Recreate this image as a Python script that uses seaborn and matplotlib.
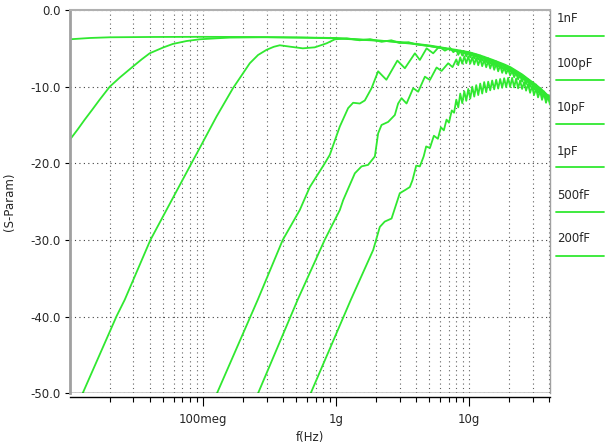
import matplotlib
matplotlib.use("Agg")
from matplotlib import pyplot as plt
from matplotlib.lines import Line2D
from matplotlib.ticker import LogLocator, FixedLocator, NullFormatter
import pandas as pd
import seaborn as sns

GREEN = "#30e830"

# frekvencie v GHz, hodnoty v dB (odcitane z obrazku)
caps = ["1nF", "100pF", "10pF", "1pF", "500fF", "200fF"]

f_1nF = [0.01, 0.0141, 0.0199, 0.0397, 0.0944, 0.2244, 0.533, 1.0, 1.79,
         3.01, 5.06]
db_1nF = [-3.82, -3.65, -3.56, -3.52, -3.50, -3.52, -3.59, -3.65, -3.91,
          -4.17, -4.63]

f_100pF = [0.01, 0.0114, 0.0129, 0.0147, 0.0167, 0.0199, 0.0237, 0.0296,
           0.0345, 0.0397, 0.05, 0.0592, 0.075, 0.0944, 0.13, 0.159, 0.30,
           0.55, 1.0, 1.4, 1.8, 2.4, 3.0, 4.0, 5.0, 6.5]
db_100pF = [-16.9, -15.6, -14.3, -13.0, -11.7, -10.0, -8.8, -7.4, -6.45,
            -5.65, -4.9, -4.43, -4.05, -3.82, -3.68, -3.6, -3.55, -3.6, -3.7,
            -3.85, -3.95, -4.05, -4.25, -4.45, -4.7, -5.0]

f_10pF = [0.0118, 0.01245, 0.02244, 0.02578, 0.0402, 0.0818, 0.0944, 0.1262,
          0.1678, 0.2244, 0.259, 0.2998, 0.34, 0.3773, 0.4487, 0.5617,
          0.6915, 0.8469, 0.978, 1.2, 1.5, 1.8, 2.2, 2.6, 3.0, 3.5, 4.0, 5.0,
          6.0, 7.0]
db_10pF = [-50.8, -50.0, -39.9, -37.8, -30.0, -20.0, -18.0, -13.9, -10.2,
           -6.95, -5.87, -5.2, -4.8, -4.6, -4.78, -5.0, -4.87, -4.35, -3.83,
           -3.7, -3.95, -3.8, -4.15, -3.95, -4.3, -4.2, -4.5, -4.7, -4.95,
           -5.1]

f_1pF = [0.12, 0.1272, 0.2577, 0.397, 0.533, 0.634, 0.822, 0.896, 1.066,
         1.231, 1.342, 1.507, 1.643, 1.846, 2.069, 2.386, 2.886, 3.287,
         3.909, 4.259, 4.786, 5.363, 5.948, 6.566, 7.2, 7.6]
db_1pF = [-50.9, -50.0, -37.8, -30.0, -26.1, -23.1, -20.0, -18.9, -15.2,
          -12.8, -12.1, -12.2, -11.8, -10.2, -8.0, -9.1, -6.6, -7.6, -5.65,
          -6.52, -5.0, -5.65, -4.78, -5.3, -4.95, -5.5]

f_500fF = [0.245, 0.259, 0.514, 0.82, 1.066, 1.13, 1.383, 1.553, 1.741,
           1.955, 2.069, 2.194, 2.461, 2.762, 2.924, 3.103, 3.383, 3.795,
           4.14, 4.647, 5.069, 5.69, 6.202, 6.951, 7.5]
db_500fF = [-50.9, -50.0, -37.8, -30.0, -26.1, -24.8, -21.3, -20.4, -20.2,
            -19.1, -16.1, -15.0, -14.6, -13.7, -12.2, -11.5, -12.2, -10.2,
            -10.66, -8.7, -9.13, -7.5, -7.95, -6.95, -7.45]

f_200fF = [0.60, 0.644, 1.29, 1.90, 2.13, 2.32, 2.61, 3.01, 3.29, 3.58, 3.75,
           4.0, 4.26, 4.55, 4.75, 5.07, 5.43, 5.82, 6.13, 6.45, 6.76, 7.05,
           7.4, 7.7]
db_200fF = [-51.2, -50.0, -37.8, -31.3, -28.3, -27.6, -27.2, -23.9, -23.5,
            -23.1, -22.2, -20.3, -20.4, -19.1, -17.8, -18.0, -16.4, -16.8,
            -15.3, -15.7, -14.3, -14.7, -13.1, -13.4]

# hladke konce hornych kriviek nad 8 GHz
f_tail = [8.0, 10.0, 12.0, 15.0, 18.4, 20.4, 25.0, 28.0, 31.0, 34.7, 40.5]
db_tail_1nF = [-5.2, -5.5, -5.9, -6.5, -7.1, -7.45, -8.4, -9.05, -9.6,
               -10.3, -11.4]
db_tail_100pF = [-5.3, -5.6, -6.0, -6.6, -7.25, -7.6, -8.5, -9.2, -9.75,
                 -10.4, -11.5]
db_tail_10pF = [-5.35, -5.7, -6.1, -6.7, -7.35, -7.7, -8.6, -9.3, -9.85,
                -10.5, -11.55]

# husto zvlnene konce (vrcholy a doliny) nad 8 GHz
f_dense = [8.0, 8.28, 8.57, 8.87, 9.19, 9.51, 9.84, 10.19, 10.55, 10.92,
           11.30, 11.70, 12.11, 12.53, 12.97, 13.43, 13.90, 14.39, 14.89,
           15.42, 15.96, 16.52, 17.10, 17.70, 18.32, 18.96, 19.63, 20.32,
           21.03, 21.77, 22.53, 23.32, 24.14, 24.99, 25.87, 26.77, 27.71,
           28.69, 29.69, 30.73, 31.81, 32.93, 34.09, 35.28, 36.52, 37.80,
           39.13, 40.5]
db_dense_1pF = [-5.2, -5.85, -5.3, -5.95, -5.4, -6.05, -5.5, -6.18, -5.65,
                -6.32, -5.8, -6.48, -5.95, -6.62, -6.1, -6.8, -6.3, -7.0,
                -6.5, -7.2, -6.7, -7.4, -6.9, -7.62, -7.23, -7.8, -7.48,
                -8.04, -7.73, -8.32, -8.03, -8.62, -8.33, -8.94, -8.68, -9.3,
                -9.03, -9.64, -9.38, -10.0, -9.73, -10.4, -10.18, -10.84,
                -10.63, -11.32, -11.08, -11.72]
db_dense_500fF = [-6.45, -7.2, -6.17, -7.0, -6.05, -6.95, -6.05, -7.0, -6.15,
                  -7.1, -6.25, -7.2, -6.35, -7.33, -6.5, -7.47, -6.65, -7.63,
                  -6.8, -7.8, -7.0, -8.0, -7.2, -8.2, -7.5, -8.3, -7.7, -8.53,
                  -7.95, -8.77, -8.2, -9.05, -8.5, -9.35, -8.8, -9.67, -9.15,
                  -10.03, -9.5, -10.4, -9.9, -10.8, -10.3, -11.23, -10.75,
                  -11.7, -11.2, -12.1]
db_dense_200fF = [-11.7, -12.7, -10.9, -12.15, -10.6, -11.85, -10.3, -11.55,
                  -10.0, -11.3, -9.8, -11.1, -9.6, -10.9, -9.4, -10.72, -9.35,
                  -10.48, -9.2, -10.35, -9.1, -10.25, -9.0, -10.15, -8.9,
                  -10.07, -8.85, -10.05, -8.85, -10.1, -8.95, -10.22, -9.2,
                  -10.3, -9.4, -10.52, -9.65, -10.8, -9.95, -11.1, -10.25,
                  -11.4, -10.55, -11.72, -10.9, -12.1, -11.25, -12.35]

curves = {
    "1nF": (f_1nF + f_tail, db_1nF + db_tail_1nF),
    "100pF": (f_100pF + f_tail, db_100pF + db_tail_100pF),
    "10pF": (f_10pF + f_tail, db_10pF + db_tail_10pF),
    "1pF": (f_1pF + f_dense, db_1pF + db_dense_1pF),
    "500fF": (f_500fF + f_dense, db_500fF + db_dense_500fF),
    "200fF": (f_200fF + f_dense, db_200fF + db_dense_200fF),
}
df = pd.concat([pd.DataFrame({"f": f, "db": db, "cap": name})
                for name, (f, db) in curves.items()])

sns.set_style("white")
plt.rcParams["font.family"] = ["DejaVu Sans"]

fig = plt.figure(figsize=(6.06, 4.46), dpi=100)
ax = fig.add_axes([70 / 606, 1 - 393.3 / 446, 480 / 606, 383.3 / 446])

sns.lineplot(data=df, x="f", y="db", hue="cap", hue_order=caps,
             palette={c: GREEN for c in caps}, estimator=None, sort=False,
             legend=False, lw=1.3, ax=ax)

ax.set_xscale("log")
ax.set_xlim(0.01, 40.5)
ax.set_ylim(-50, 0)

# osi a mriezka
ax.xaxis.set_major_locator(FixedLocator([0.1, 1, 10]))
ax.set_xticklabels(["100meg", "1g", "10g"])
ax.xaxis.set_minor_locator(LogLocator(base=10, subs=range(2, 10)))
ax.xaxis.set_minor_formatter(NullFormatter())
yt = [-50, -40, -30, -20, -10, 0]
ax.set_yticks(yt)
ax.set_yticklabels([f"{v:.1f}" for v in yt])

ax.grid(which="both", axis="x", color="#606060", lw=0.8,
        linestyle=(0, (1, 3)))
ax.grid(which="major", axis="y", color="#404040", lw=0.8,
        linestyle=(0, (1, 3)))
ax.axhline(-50, color="black", lw=1)

ax.tick_params(axis="x", which="major", direction="out", length=6.3,
               width=0.8, color="black", labelsize=8.5, pad=5, bottom=True)
ax.tick_params(axis="x", which="minor", direction="out", length=3.8,
               width=0.8, color="black", bottom=True)
ax.tick_params(axis="y", which="major", direction="out", length=3.6,
               width=0.8, color="black", labelsize=8.5, pad=3, left=True)

ax.spines["left"].set_color("#a0a0a0")
ax.spines["left"].set_linewidth(2)
ax.spines["top"].set_color("#b0b0b0")
ax.spines["top"].set_linewidth(1.5)
ax.spines["right"].set_color("#a0a0a0")
ax.spines["right"].set_linewidth(1)
ax.spines["bottom"].set_color("black")
ax.spines["bottom"].set_linewidth(1)
ax.spines["bottom"].set_position(("outward", 3))

ax.set_xlabel("f(Hz)", fontsize=8.5)
ax.set_ylabel("(S-Param)", fontsize=8.5)
ax.xaxis.set_label_coords(0.5, -0.098)
ax.yaxis.set_label_coords(-0.112, 0.5)

# legenda vpravo: text nad ciarou
for i, lab in enumerate(caps):
    ty = 19 + 44 * i
    fig.text(557 / 606, 1 - ty / 446, lab, fontsize=8.5, va="center",
             ha="left")
    fig.add_artist(Line2D([556 / 606, 604 / 606],
                          [1 - (ty + 16.5) / 446] * 2, color=GREEN, lw=1.3))

fig.savefig("out.png", dpi=100)
